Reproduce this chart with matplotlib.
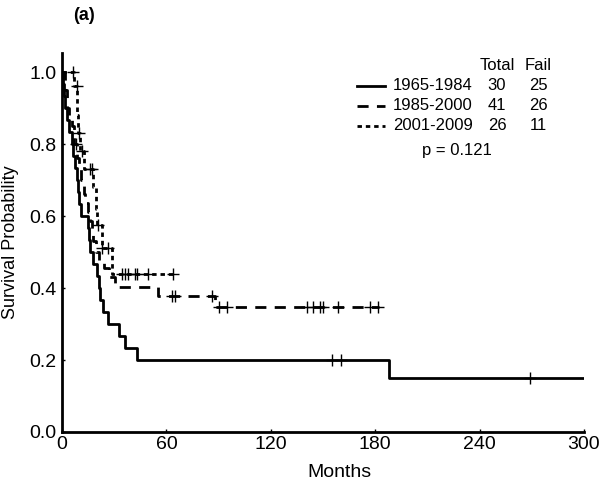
import numpy as np
import matplotlib
matplotlib.use("Agg")
import matplotlib.pyplot as plt

plt.rcParams['font.family'] = ['Liberation Sans', 'DejaVu Sans']

# ---- data ----
groups = ["1965-1984", "1985-2000", "2001-2009"]
totals = [30, 41, 26]
fails = [25, 26, 11]
p_value = "p = 0.121"

# step curves: times (months) at which survival changes, and survival after the change
solid_t = [0, 0.5, 1, 1.5, 3, 4, 5.5, 6.5, 7.5, 8.5, 9, 10, 11, 15, 15.5, 16, 18, 20, 21, 22,
           23.5, 26.5, 33, 36, 43, 188]
solid_s = [1.0, 0.967, 0.933, 0.9, 0.867, 0.833, 0.8, 0.767, 0.733, 0.7, 0.667, 0.633, 0.6,
           0.567, 0.533, 0.5, 0.467, 0.433, 0.4, 0.367, 0.333, 0.3, 0.267, 0.233, 0.2, 0.15]
solid_end = 300
solid_cens = [155, 160.5, 269]

dash_t = [0, 1.5, 3, 4, 5.5, 7, 8.5, 10, 11, 12.5, 13.5, 15, 16, 17, 18, 19.5, 21, 24, 27,
          30.5, 55, 88]
dash_s = [1.0, 0.95, 0.9, 0.875, 0.85, 0.80, 0.76, 0.73, 0.70, 0.66, 0.635, 0.61, 0.585,
          0.56, 0.53, 0.50, 0.478, 0.455, 0.43, 0.403, 0.378, 0.347]
dash_end = 182
dash_cens = [8, 63, 65, 86, 90, 95, 141, 144, 148, 150, 158.6, 177, 181.6]

dot_t = [0, 7, 8.8, 9.3, 10.5, 12.5, 18, 19.5, 20, 22.8, 28.5]
dot_s = [1.0, 0.962, 0.88, 0.83, 0.78, 0.73, 0.68, 0.62, 0.575, 0.51, 0.44]
dot_end = 64
dot_cens = [6.3, 8.6, 9.8, 11.4, 16, 17, 20.7, 22.9, 26.5, 34.5, 36, 38, 42, 43, 49.5, 64]

x_ticks = [0, 60, 120, 180, 240, 300]
y_ticks = [0.0, 0.2, 0.4, 0.6, 0.8, 1.0]

fig = plt.figure(figsize=(6.01, 4.88), dpi=100)
ax = fig.add_axes([62 / 601, (488 - 432) / 488, (584 - 62) / 601, (432 - 53) / 488])

styles = [dict(ls='-', lw=2.0), dict(ls=(0, (4, 3)), lw=2.0), dict(ls=(0, (1.6, 1.4)), lw=2.0)]
curves = [(solid_t, solid_s, solid_end, solid_cens),
          (dash_t, dash_s, dash_end, dash_cens),
          (dot_t, dot_s, dot_end, dot_cens)]

for (t, s, end, cens), st in zip(curves, styles):
    tt = list(t) + [end]
    ss = list(s) + [s[-1]]
    ax.step(tt, ss, where='post', color='black', **st)
    ct = np.array(cens)
    idx = np.searchsorted(np.array(t), ct, side='right') - 1
    cs = np.array(s)[idx]
    ax.plot(ct, cs, ls='none', marker='+', color='black', ms=9, mew=1.0)

ax.set_xlim(0, 300)
ax.set_ylim(0, 1.053)
ax.set_xticks(x_ticks)
ax.set_xticklabels([str(v) for v in x_ticks])
ax.set_yticks(y_ticks)
ax.set_yticklabels([f"{v:.1f}" for v in y_ticks])
ax.spines['top'].set_visible(False)
ax.spines['right'].set_visible(False)
for sp in ['left', 'bottom']:
    ax.spines[sp].set_linewidth(2.0)
ax.tick_params(axis='both', direction='in', length=2, width=1, labelsize=14)
ax.tick_params(axis='x', pad=3)
ax.tick_params(axis='y', pad=4)
ax.set_xlabel("Months", fontsize=14)
ax.xaxis.set_label_coords((339 - 62) / 522, -0.085)
ax.set_ylabel("Survival Probability", fontsize=13)
ax.yaxis.set_label_coords(-(62 - 19) / 522, 0.5)

# legend table
fs = 12
fig.text(497 / 601, 1 - 65 / 488, "Total", fontsize=fs, ha='center', va='center')
fig.text(538 / 601, 1 - 65 / 488, "Fail", fontsize=fs, ha='center', va='center')
rows_y = [86, 106, 126]
for g, tot, fl, st, yy in zip(groups, totals, fails, styles, rows_y):
    yf = 1 - yy / 488
    fig.add_artist(plt.Line2D([357 / 601, 385 / 601], [yf, yf], color='black', **st))
    fig.text(393 / 601, yf, g, fontsize=fs, ha='left', va='center')
    fig.text(497 / 601, yf, str(tot), fontsize=fs, ha='center', va='center')
    fig.text(538 / 601, yf, str(fl), fontsize=fs, ha='center', va='center')
fig.text(457 / 601, 1 - 151 / 488, p_value, fontsize=fs, ha='center', va='center')

fig.text(84 / 601, 1 - 16 / 488, "(a)", fontsize=13, fontweight='bold', ha='center', va='center')

fig.savefig("out.png", dpi=100)
